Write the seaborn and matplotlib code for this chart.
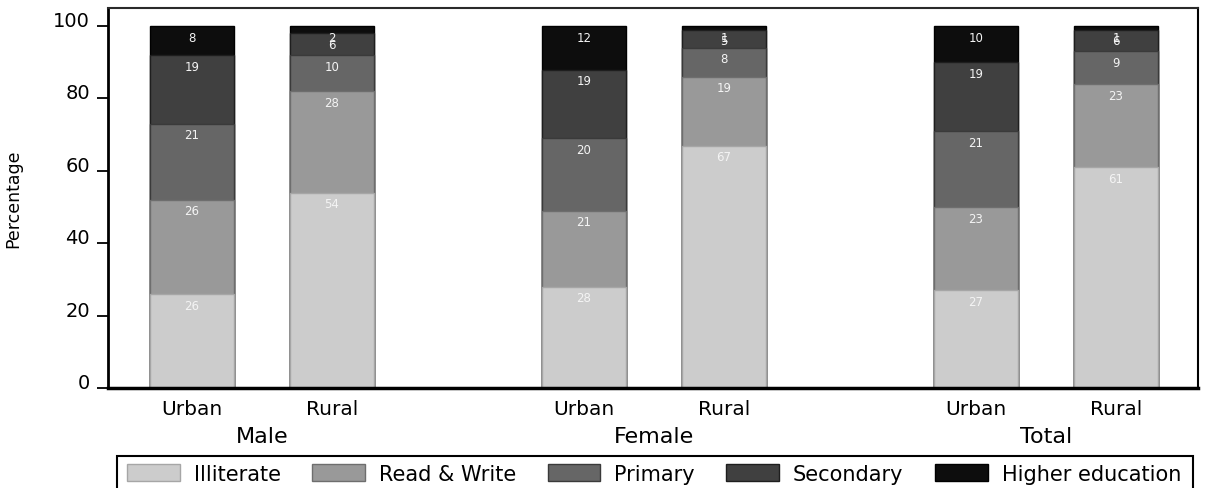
import matplotlib
matplotlib.use("Agg")
import matplotlib.pyplot as plt
import matplotlib.transforms as mtransforms
from matplotlib.patches import Patch, Rectangle
import numpy as np
import pandas as pd
import seaborn as sns

# Education level by sex and place of residence (percent of each group)
groups = ["Male", "Female", "Total"]
areas = ["Urban", "Rural"]
levels = ["Illiterate", "Read & Write", "Primary", "Secondary", "Higher education"]

# one value per bar: Male-Urban, Male-Rural, Female-Urban, Female-Rural, Total-Urban, Total-Rural
illiterate = [26, 54, 28, 67, 27, 61]
read_write = [26, 28, 21, 19, 23, 23]
primary = [21, 10, 20, 8, 21, 9]
secondary = [19, 6, 19, 5, 19, 6]
higher_education = [8, 2, 12, 1, 10, 1]

y_ticks = [0, 20, 40, 60, 80, 100]

fill_colors = ["#cccccc", "#999999", "#666666", "#404040", "#0d0d0d"]
edge_colors = ["#a6a6a6", "#6e6e6e", "#3a3a3a", "#1e1e1e", "#000000"]

sns.set_theme(style="ticks")
plt.rcParams["font.family"] = ["DejaVu Sans"]
plt.rcParams["text.color"] = "black"
plt.rcParams["axes.labelcolor"] = "black"
plt.rcParams["xtick.color"] = "black"
plt.rcParams["ytick.color"] = "black"

# bar positions: two bars per group, wider gap between groups
group_step = 2.8
positions = [gi * group_step + ai for gi in range(len(groups)) for ai in range(len(areas))]
bar_areas = [a for _ in groups for a in areas]

values = np.array([illiterate, read_write, primary, secondary, higher_education])
tops = np.cumsum(values, axis=0)

rows = []
for k, lev in enumerate(levels):
    for b, pos in enumerate(positions):
        rows.append({"pos": pos, "level": lev, "value": int(values[k, b]),
                     "top": float(tops[k, b])})
df = pd.DataFrame(rows)

W, H = 1205, 489
fig = plt.figure(figsize=(W / 100, H / 100), dpi=100)
ax = fig.add_axes([108 / W, 1 - 389 / H, 1090 / W, 380 / H])

# stacked bars: draw cumulative heights from the top layer down
for k in reversed(range(len(levels))):
    sub = df[df["level"] == levels[k]]
    sns.barplot(data=sub, x="pos", y="top", native_scale=True, width=0.6,
                color=fill_colors[k], saturation=1, edgecolor=edge_colors[k],
                linewidth=1.0, errorbar=None, ax=ax)

# segment value labels, just below each segment's upper edge
for _, r in df.iterrows():
    ax.annotate(str(r["value"]), xy=(r["pos"], r["top"]), xytext=(0, -8),
                textcoords="offset points", ha="center", va="center",
                color="#f4f4f4", fontsize=8.5)

ax.set_xlim(-0.6, 7.186)
ax.set_ylim(0, 105)
ax.set_xlabel("")
ax.set_ylabel("Percentage", fontsize=12.5, color="black")
ax.yaxis.set_label_coords(-0.079, 0.5)

ax.set_xticks(positions, labels=bar_areas)
ax.tick_params(axis="x", length=0, pad=8, labelsize=14.5, colors="black", bottom=True)
ax.set_yticks(y_ticks, labels=[str(t) for t in y_ticks])
ax.tick_params(axis="y", length=8, width=1.3, pad=5, labelsize=14,
               colors="black", left=True, direction="out")
for lab in ax.get_yticklabels():
    lab.set_va("baseline")

for side, lw, col in [("left", 2.0, "black"), ("bottom", 2.5, "black"),
                      ("right", 1.5, "black"), ("top", 1.5, "#2a2a2a")]:
    ax.spines[side].set_visible(True)
    ax.spines[side].set_linewidth(lw)
    ax.spines[side].set_color(col)

# group names under each pair of bars
trans = mtransforms.blended_transform_factory(ax.transData, ax.transAxes)
for gi, g in enumerate(groups):
    center = gi * group_step + 0.5
    ax.text(center, -0.142, g, transform=trans, ha="center", va="baseline",
            fontsize=16, color="black")

# legend row along the bottom edge
handles = [Patch(facecolor=fill_colors[k], edgecolor=edge_colors[k], linewidth=1.0)
           for k in range(len(levels))]
fig.legend(handles, levels, loc="center left",
           bbox_to_anchor=(127 / W, 1 - 475 / H), bbox_transform=fig.transFigure,
           ncol=5, frameon=False, fontsize=15, borderpad=0, borderaxespad=0,
           handlelength=2.54, handleheight=0.86, handletextpad=0.67,
           columnspacing=1.5, labelcolor="black")
fig.patches.append(Rectangle((117 / W, -0.1), (1193 - 117) / W, 0.1 + (1 - 457 / H),
                             transform=fig.transFigure, figure=fig, fill=False,
                             edgecolor="black", linewidth=1.5))

fig.savefig("out.png", dpi=100)
